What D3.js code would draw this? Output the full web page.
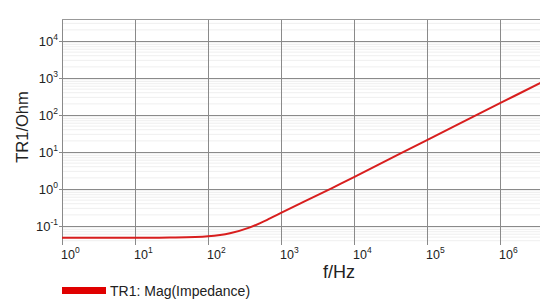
<!DOCTYPE html>
<html><head><meta charset="utf-8">
<script src="https://cdn.jsdelivr.net/npm/d3@7"></script>
<style>body{margin:0;background:#fff}svg{display:block;font-family:Arial,"Liberation Sans",sans-serif}</style>
</head><body><svg id="c" width="540" height="305"></svg>
<script>
const freq = [1, 10, 30, 100, 200, 376, 707, 1000, 2000, 5000, 1e4, 1e5, 1e6, 3.6e6];
const impedance = [0.048, 0.048, 0.0487, 0.053, 0.064, 0.092, 0.160, 0.225, 0.44, 1.06, 2.1, 21, 208, 745];
const xTickExps = [0, 1, 2, 3, 4, 5, 6];
const yTickExps = [-1, 0, 1, 2, 3, 4];
const seriesName = "TR1: Mag(Impedance)";
const xTitle = "f/Hz", yTitle = "TR1/Ohm";

const svg = d3.select("#c");
const L = 62, R = 540, T = 19, B = 241;
const x = d3.scaleLog().domain([1, Math.pow(10, (R - L) / 73)]).range([L, R]);
const y = d3.scaleLog().domain([Math.pow(10, -1 - 15 / 37), Math.pow(10, 4 + 22 / 37)]).range([B, T]);

// minor gridlines
const minor = [];
for (let e = -2; e <= 4; e++) for (let k = 2; k <= 9; k++) { const v = k * Math.pow(10, e); if (v > y.domain()[0] && v < y.domain()[1]) minor.push(v); }
svg.append("g").selectAll("line").data(minor).join("line")
  .attr("x1", L).attr("x2", R).attr("y1", d => y(d)).attr("y2", d => y(d))
  .attr("stroke", "#efefef").attr("stroke-width", 1);

// major gridlines
svg.append("g").selectAll("line").data(yTickExps).join("line")
  .attr("x1", L - 3).attr("x2", R).attr("y1", d => Math.round(y(Math.pow(10, d))) + 0.5).attr("y2", d => Math.round(y(Math.pow(10, d))) + 0.5)
  .attr("stroke", "#8a8a8a").attr("stroke-width", 1);
svg.append("g").selectAll("line").data(xTickExps).join("line")
  .attr("y1", T).attr("y2", B + 4).attr("x1", d => Math.round(x(Math.pow(10, d))) + 0.5).attr("x2", d => Math.round(x(Math.pow(10, d))) + 0.5)
  .attr("stroke", "#8a8a8a").attr("stroke-width", 1);
// top frame
svg.append("line").attr("x1", L).attr("x2", R).attr("y1", T + 0.5).attr("y2", T + 0.5).attr("stroke", "#999");

// curve
svg.append("path").datum(freq.map((f, i) => [f, impedance[i]]))
  .attr("fill", "none").attr("stroke", "#d81e1e").attr("stroke-width", 2)
  .attr("d", d3.line().x(d => x(d[0])).y(d => y(d[1])).curve(d3.curveCatmullRom.alpha(0.5)));

// y tick labels
const yl = svg.append("g").selectAll("text").data(yTickExps).join("text")
  .attr("x", 58).attr("y", d => y(Math.pow(10, d)) + 5)
  .attr("text-anchor", "end").attr("font-size", 13).attr("fill", "#222");
yl.append("tspan").text("10");
yl.append("tspan").attr("font-size", 8.5).attr("dy", -6).text(d => d < 0 ? "-" + Math.abs(d) : d);

// x tick labels
const xl = svg.append("g").selectAll("text").data(xTickExps).join("text")
  .attr("x", d => x(Math.pow(10, d)) - 1).attr("y", 259)
  .attr("text-anchor", "start").attr("font-size", 12.5).attr("fill", "#222");
xl.append("tspan").text("10");
xl.append("tspan").attr("font-size", 8.5).attr("dy", -6).text(d => d);

// titles
svg.append("text").attr("x", 339).attr("y", 278).attr("text-anchor", "middle").attr("font-size", 18).attr("fill", "#222").text(xTitle);
svg.append("text").attr("transform", "translate(28,127) rotate(-90)").attr("text-anchor", "middle").attr("font-size", 16.5).attr("fill", "#222").text(yTitle);

// legend
svg.append("rect").attr("x", 62).attr("y", 287).attr("width", 44).attr("height", 7).attr("fill", "#e00000");
svg.append("text").attr("x", 110).attr("y", 296).attr("font-size", 14).attr("fill", "#222").text(seriesName);
</script></body></html>
